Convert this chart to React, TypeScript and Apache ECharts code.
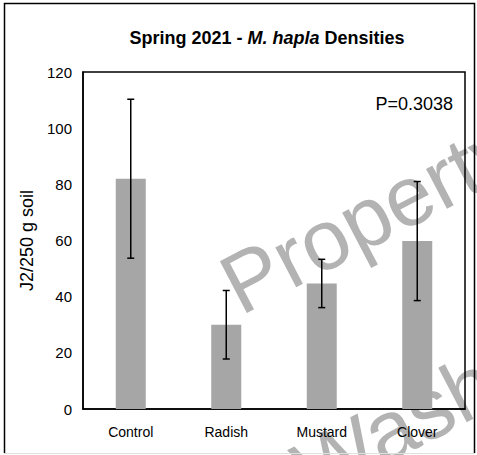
import React, { useEffect, useRef } from "react";
import * as echarts from "echarts";

const categories = ["Control", "Radish", "Mustard", "Clover"];
const means = [82, 30, 44.7, 59.8];
const errors = [28.3, 12.2, 8.6, 21.2];
const yTicks = { min: 0, max: 120, interval: 20 };
const pValueLabel = "P=0.3038";

export default function App() {
  const ref = useRef<HTMLDivElement>(null);
  useEffect(() => {
    if (!ref.current) return;
    const chart = echarts.init(ref.current, undefined, { renderer: "svg" });
    const font = "'Liberation Sans', Arial, sans-serif";
    const errData = categories.map((c, i) => [i, means[i] - errors[i], means[i] + errors[i]]);
    chart.setOption({
      animation: false,
      backgroundColor: "#ffffff",
      textStyle: { fontFamily: font },
      title: {
        left: 262,
        top: 24,
        textAlign: "center",
        text: "{b|Spring 2021 - }{i|M. hapla}{b| Densities}",
        textStyle: {
          rich: {
            b: { fontFamily: font, fontSize: 18, fontWeight: "bold", color: "#000" },
            i: { fontFamily: font, fontSize: 18, fontWeight: "bold", fontStyle: "italic", color: "#000" },
          },
        },
      },
      grid: {
        left: 83,
        right: 12,
        top: 72,
        bottom: 46,
        show: true,
        borderColor: "#000",
        borderWidth: 1.5,
        backgroundColor: "transparent",
      },
      xAxis: {
        type: "category",
        data: categories,
        axisLine: { lineStyle: { color: "#000", width: 1.5 } },
        axisTick: { show: false },
        axisLabel: { color: "#000", fontSize: 14, fontFamily: font, margin: 16 },
      },
      yAxis: {
        type: "value",
        min: yTicks.min,
        max: yTicks.max,
        interval: yTicks.interval,
        name: "J2/250 g soil",
        nameLocation: "middle",
        nameGap: 39,
        nameTextStyle: { color: "#000", fontSize: 18, fontFamily: font },
        axisLine: { show: true, lineStyle: { color: "#000", width: 1.5 } },
        axisTick: { show: false },
        splitLine: { show: false },
        axisLabel: { color: "#000", fontSize: 15, fontFamily: font, margin: 11 },
      },
      graphic: [
        {
          type: "text",
          z: -10,
          x: 227,
          y: 290,
          rotation: 0.48,
          style: {
            text: "Property of",
            fontSize: 85,
            fontFamily: font,
            fill: "#b3b3b3",
            textAlign: "left",
            textVerticalAlign: "middle",
          },
        },
        {
          type: "text",
          z: -10,
          x: 300,
          y: 476,
          rotation: 0.48,
          style: {
            text: "Washington State University",
            fontSize: 85,
            fontFamily: font,
            fill: "#b3b3b3",
            textAlign: "left",
            textVerticalAlign: "middle",
          },
        },
        {
          type: "text",
          z: 10,
          x: 453,
          y: 104,
          style: {
            text: pValueLabel,
            fontSize: 18,
            fontFamily: font,
            fill: "#000",
            textAlign: "right",
            textVerticalAlign: "middle",
          },
        },
        {
          type: "polyline",
          z: 10,
          shape: { points: [[4.5, 453], [4.5, 3.5], [474.5, 3.5], [474.5, 453]] },
          style: { stroke: "#000", lineWidth: 1.5, fill: null },
        },
        {
          type: "line",
          z: 10,
          shape: { x1: 4, y1: 453.5, x2: 475, y2: 453.5 },
          style: { stroke: "#e0e0e0", lineWidth: 1 },
        },
      ],
      series: [
        {
          type: "bar",
          data: means,
          barWidth: 30,
          itemStyle: { color: "#a6a6a6" },
          z: 2,
        },
        {
          type: "custom",
          z: 5,
          data: errData,
          renderItem: (params: any, api: any) => {
            const x = api.value(0);
            const lo = api.coord([x, api.value(1)]);
            const hi = api.coord([x, api.value(2)]);
            const hw = 3.5;
            const st = { stroke: "#000", lineWidth: 1.5 };
            return {
              type: "group",
              children: [
                { type: "line", shape: { x1: lo[0], y1: lo[1], x2: hi[0], y2: hi[1] }, style: st },
                { type: "line", shape: { x1: hi[0] - hw, y1: hi[1], x2: hi[0] + hw, y2: hi[1] }, style: st },
                { type: "line", shape: { x1: lo[0] - hw, y1: lo[1], x2: lo[0] + hw, y2: lo[1] }, style: st },
              ],
            };
          },
        },
      ],
    });
    return () => chart.dispose();
  }, []);
  return (
    <div
      ref={ref}
      style={{ position: "fixed", left: 0, top: 0, width: 477, height: 455, background: "#fff" }}
    />
  );
}
